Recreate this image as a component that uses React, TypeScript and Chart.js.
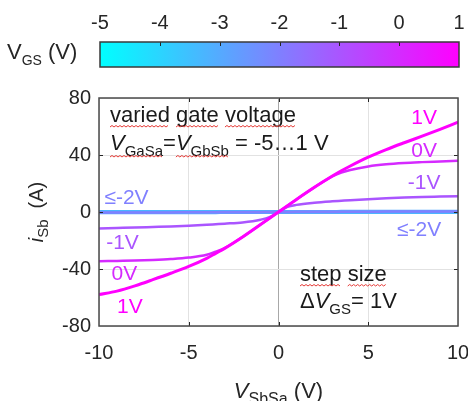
import { useEffect, useRef } from "react";
import { Chart, registerables } from "chart.js";

Chart.register(...registerables);

const FONT = "'Liberation Sans', Arial, Helvetica, sans-serif";
const TEXT = "#262626";
const NOTE = "#1a1a1a";

// Gate voltage colour bar (V)
const vgsTicks = [-5, -4, -3, -2, -1, 0, 1];
const vgsMin = -5;
const vgsMax = 1;

// Axis ranges and tick steps
const xMin = -10;
const xMax = 10;
const xStep = 5;
const yMin = -80;
const yMax = 80;
const yStep = 40;

// Source-drain sweep V_SbSa (V)
const vSbSa = [-10, -9, -8, -7, -6, -5, -4, -3.5, -3, -2, -1, -0.5, 0, 0.5, 1, 2, 3, 3.5, 4, 5, 6, 7, 8, 9, 10];

// Current i_Sb (A) per gate voltage
const iSbGate1 = [-58, -55.5, -51.8, -47.5, -43, -38.2, -32.5, -29, -25.5, -17.5, -8.8, -4.4, 0, 4.4, 8.8, 17.3, 25.2, 28.9, 32.3, 38.5, 43.8, 48.6, 53.2, 58, 63];
const iSbGate0 = [-34.6, -34.3, -34, -33.6, -33, -32, -30, -27.8, -25.3, -17.5, -8.8, -4.4, 0, 4.4, 8.8, 17.3, 25, 27.6, 29.5, 32, 33.5, 34.4, 35, 35.5, 36];
const iSbGateM1 = [-11.5, -11.2, -10.9, -10.5, -10.1, -9.6, -9, -8.6, -8.2, -7.3, -5.4, -3.6, 0, 3.6, 5, 6.5, 7.5, 7.9, 8.3, 9, 9.6, 10.1, 10.5, 10.8, 11.1];
const iSbGateM2 = [-0.4, -0.4, -0.3, -0.3, -0.3, -0.2, -0.2, -0.2, -0.1, -0.1, -0.1, 0, 0, 0, 0.1, 0.1, 0.1, 0.2, 0.2, 0.2, 0.3, 0.3, 0.3, 0.4, 0.4];
const iSbGateM3 = [-0.2, -0.2, -0.2, -0.1, -0.1, -0.1, -0.1, -0.1, 0, 0, 0, 0, 0, 0, 0, 0, 0, 0.1, 0.1, 0.1, 0.1, 0.1, 0.2, 0.2, 0.2];
const iSbGateM4 = [0, 0, 0, 0, 0, 0, 0, 0, 0, 0, 0, 0, 0, 0, 0, 0, 0, 0, 0, 0, 0, 0, 0, 0, 0];
const iSbGateM5 = [0, 0, 0, 0, 0, 0, 0, 0, 0, 0, 0, 0, 0, 0, 0, 0, 0, 0, 0, 0, 0, 0, 0, 0, 0];

const gateSeries = [
  { vgs: 1, values: iSbGate1, width: 3 },
  { vgs: 0, values: iSbGate0, width: 2.5 },
  { vgs: -1, values: iSbGateM1, width: 2.5 },
  { vgs: -2, values: iSbGateM2, width: 2.5 },
  { vgs: -3, values: iSbGateM3, width: 4 },
  { vgs: -4, values: iSbGateM4, width: 4 },
  { vgs: -5, values: iSbGateM5, width: 4 },
];

// "cool" colormap: cyan at VGS = -5 V to magenta at VGS = 1 V
function coolColor(v: number): string {
  const t = Math.min(1, Math.max(0, (v - vgsMin) / (vgsMax - vgsMin)));
  return `rgb(${Math.round(255 * t)}, ${Math.round(255 * (1 - t))}, 255)`;
}

type Run = { t: string; it?: boolean; sub?: boolean };

// Draws a line of mixed text (italic / subscript), returns [start, end] of every run
function drawRuns(
  ctx: CanvasRenderingContext2D,
  runs: Run[],
  x: number,
  y: number,
  size: number,
  subSize: number,
  color: string,
  measureOnly = false
): { spans: number[][]; width: number } {
  const spans: number[][] = [];
  let cx = x;
  ctx.save();
  ctx.fillStyle = color;
  ctx.textAlign = "left";
  ctx.textBaseline = "alphabetic";
  for (const r of runs) {
    const s = r.sub ? subSize : size;
    ctx.font = `${r.it ? "italic " : ""}${s}px ${FONT}`;
    const w = ctx.measureText(r.t).width;
    if (!measureOnly) ctx.fillText(r.t, cx, r.sub ? y + size * 0.27 : y);
    spans.push([cx, cx + w]);
    cx += w;
  }
  ctx.restore();
  return { spans, width: cx - x };
}

// Red wavy underline
function squiggle(ctx: CanvasRenderingContext2D, x0: number, x1: number, y: number) {
  ctx.save();
  ctx.strokeStyle = "#e53935";
  ctx.lineWidth = 1;
  ctx.beginPath();
  ctx.moveTo(x0, y);
  let up = true;
  for (let x = x0 + 2; x <= x1; x += 2) {
    ctx.lineTo(x, up ? y - 1.5 : y);
    up = !up;
  }
  ctx.stroke();
  ctx.restore();
}

const colorbarDecor = {
  id: "colorbarDecor",
  afterDraw(chart: any) {
    const { ctx, chartArea: a, scales } = chart;
    ctx.save();
    const g = ctx.createLinearGradient(a.left, 0, a.right, 0);
    g.addColorStop(0, coolColor(vgsMin));
    g.addColorStop(1, coolColor(vgsMax));
    ctx.fillStyle = g;
    ctx.fillRect(a.left, a.top, a.right - a.left, a.bottom - a.top);
    ctx.strokeStyle = TEXT;
    ctx.lineWidth = 1;
    ctx.beginPath();
    for (const v of vgsTicks) {
      if (v === vgsMin || v === vgsMax) continue;
      const px = Math.round(scales.x.getPixelForValue(v)) + 0.5;
      ctx.moveTo(px, a.top);
      ctx.lineTo(px, a.top + 4);
    }
    ctx.stroke();
    ctx.lineWidth = 1.5;
    ctx.strokeStyle = "#3a3a3a";
    ctx.strokeRect(a.left, a.top, a.right - a.left, a.bottom - a.top);
    ctx.restore();
    drawRuns(ctx, [{ t: "V" }, { t: "GS", sub: true }, { t: " (V)" }], 7, a.top + 17, 22, 14, TEXT);
  },
};

// Label anchors in data coordinates (V_SbSa, i_Sb)
const curveLabels = [
  { text: "1V", vgs: 1, x: 7.4, y: 62 },
  { text: "0V", vgs: 0, x: 7.4, y: 38.6 },
  { text: "-1V", vgs: -1, x: 7.2, y: 15.8 },
  { text: "\u2264-2V", vgs: -2, x: 6.6, y: -16.7 },
  { text: "\u2264-2V", vgs: -2, x: -9.7, y: 5.4 },
  { text: "-1V", vgs: -1, x: -9.6, y: -25.7 },
  { text: "0V", vgs: 0, x: -9.3, y: -47.9 },
  { text: "1V", vgs: 1, x: -9.0, y: -70.7 },
];

const mainDecor = {
  id: "mainDecor",
  afterDraw(chart: any) {
    const { ctx, chartArea: a, scales } = chart;
    const xs = scales.x;
    const ys = scales.y;
    ctx.save();
    // inward tick marks on all four sides
    ctx.strokeStyle = TEXT;
    ctx.lineWidth = 1;
    ctx.beginPath();
    for (let v = xMin + xStep; v < xMax; v += xStep) {
      const px = Math.round(xs.getPixelForValue(v)) + 0.5;
      ctx.moveTo(px, a.bottom);
      ctx.lineTo(px, a.bottom - 4);
      ctx.moveTo(px, a.top);
      ctx.lineTo(px, a.top + 4);
    }
    for (let v = yMin + yStep; v < yMax; v += yStep) {
      const py = Math.round(ys.getPixelForValue(v)) + 0.5;
      ctx.moveTo(a.left, py);
      ctx.lineTo(a.left + 4, py);
      ctx.moveTo(a.right, py);
      ctx.lineTo(a.right - 4, py);
    }
    ctx.stroke();
    ctx.lineWidth = 1.5;
    ctx.strokeStyle = "#4a4a4a";
    ctx.strokeRect(a.left, a.top, a.right - a.left, a.bottom - a.top);
    ctx.restore();

    // curve labels
    ctx.save();
    ctx.font = `21px ${FONT}`;
    ctx.textAlign = "left";
    ctx.textBaseline = "alphabetic";
    for (const l of curveLabels) {
      ctx.fillStyle = coolColor(l.vgs);
      ctx.fillText(l.text, xs.getPixelForValue(l.x), ys.getPixelForValue(l.y));
    }
    ctx.restore();

    // annotation: gate voltage sweep
    const tx = a.left + 11;
    const l1 = drawRuns(
      ctx,
      [{ t: "varied" }, { t: " " }, { t: "gate" }, { t: " " }, { t: "voltage" }],
      tx, a.top + 24, 22, 15, NOTE
    );
    for (const i of [0, 2, 4]) squiggle(ctx, l1.spans[i][0], l1.spans[i][1], a.top + 29);
    const l2 = drawRuns(
      ctx,
      [
        { t: "V", it: true }, { t: "GaSa", sub: true }, { t: "=" },
        { t: "V", it: true }, { t: "GbSb", sub: true }, { t: " = -5\u20261 V" },
      ],
      tx, a.top + 52, 22, 15, NOTE
    );
    squiggle(ctx, l2.spans[0][0], l2.spans[1][1], a.top + 59);
    squiggle(ctx, l2.spans[3][0], l2.spans[4][1], a.top + 59);

    // annotation: step size
    const sx = a.left + 201;
    const s1 = drawRuns(ctx, [{ t: "step" }, { t: " " }, { t: "size" }], sx, a.top + 183, 22, 15, NOTE);
    for (const i of [0, 2]) squiggle(ctx, s1.spans[i][0], s1.spans[i][1], a.top + 188);
    drawRuns(
      ctx,
      [{ t: "\u0394" }, { t: "V", it: true }, { t: "GS", sub: true }, { t: "= 1V" }],
      sx, a.top + 210, 22, 15, NOTE
    );

    // x axis title
    const xRuns: Run[] = [{ t: "V", it: true }, { t: "SbSa", sub: true }, { t: " (V)" }];
    const xw = drawRuns(ctx, xRuns, 0, 0, 22, 16, TEXT, true).width;
    drawRuns(ctx, xRuns, (a.left + a.right) / 2 - xw / 2, a.bottom + 72, 22, 16, TEXT);

    // y axis title (rotated)
    const yRuns: Run[] = [{ t: "i", it: true }, { t: "Sb", sub: true }, { t: "  (A)" }];
    const yw = drawRuns(ctx, yRuns, 0, 0, 20, 15, TEXT, true).width;
    ctx.save();
    ctx.translate(43, (a.top + a.bottom) / 2);
    ctx.rotate(-Math.PI / 2);
    drawRuns(ctx, yRuns, -yw / 2, 0, 20, 15, TEXT);
    ctx.restore();
  },
};

export default function App() {
  const cbRef = useRef<HTMLCanvasElement | null>(null);
  const mainRef = useRef<HTMLCanvasElement | null>(null);

  useEffect(() => {
    if (!cbRef.current || !mainRef.current) return;

    const cb = new Chart(cbRef.current, {
      type: "scatter",
      data: { datasets: [] },
      options: {
        responsive: false,
        animation: false,
        layout: { padding: { left: 100, right: 9, top: 0, bottom: 13 } },
        plugins: { legend: { display: false }, tooltip: { enabled: false } },
        scales: {
          x: {
            type: "linear",
            position: "top",
            min: vgsMin,
            max: vgsMax,
            afterBuildTicks: (s: any) => {
              s.ticks = vgsTicks.map((v) => ({ value: v }));
            },
            ticks: { font: { family: FONT, size: 20 }, color: TEXT, padding: 7 },
            grid: { display: false, drawTicks: false },
            border: { display: false },
            afterFit: (s: any) => {
              s.height = 42;
              s.paddingLeft = 0;
              s.paddingRight = 0;
            },
          },
          y: { display: false, min: 0, max: 1 },
        },
      },
      plugins: [colorbarDecor],
    } as any);

    const datasets = gateSeries.map((g) => ({
      label: `${g.vgs} V`,
      data: vSbSa.map((x, i) => ({ x, y: g.values[i] })),
      borderColor: coolColor(g.vgs),
      borderWidth: g.width,
      pointRadius: 0,
      fill: false,
      cubicInterpolationMode: "monotone",
    }));

    const gridColor = (c: any) => (c.tick && c.tick.value === 0 ? "#a8a8a8" : "#e2e2e2");

    const main = new Chart(mainRef.current, {
      type: "line",
      data: { datasets },
      options: {
        responsive: false,
        animation: false,
        layout: { padding: { left: 0, right: 10, top: 18, bottom: 0 } },
        plugins: { legend: { display: false }, tooltip: { enabled: false } },
        scales: {
          x: {
            type: "linear",
            min: xMin,
            max: xMax,
            ticks: { stepSize: xStep, font: { family: FONT, size: 20 }, color: TEXT, padding: 15 },
            grid: { drawTicks: false, color: gridColor },
            border: { display: false },
            afterFit: (s: any) => {
              s.height = 75;
              s.paddingLeft = 0;
              s.paddingRight = 0;
            },
          },
          y: {
            type: "linear",
            min: yMin,
            max: yMax,
            ticks: { stepSize: yStep, font: { family: FONT, size: 20 }, color: TEXT, padding: 8 },
            grid: { drawTicks: false, color: gridColor },
            border: { display: false },
            afterFit: (s: any) => {
              s.width = 99;
              s.paddingTop = 0;
              s.paddingBottom = 0;
            },
          },
        },
      },
      plugins: [mainDecor],
    } as any);

    return () => {
      cb.destroy();
      main.destroy();
    };
  }, []);

  return (
    <div style={{ position: "absolute", left: 0, top: 0, width: 468, height: 401, background: "#fff" }}>
      <canvas ref={cbRef} width={468} height={80} style={{ display: "block", width: 468, height: 80 }} />
      <canvas ref={mainRef} width={468} height={321} style={{ display: "block", width: 468, height: 321 }} />
    </div>
  );
}
